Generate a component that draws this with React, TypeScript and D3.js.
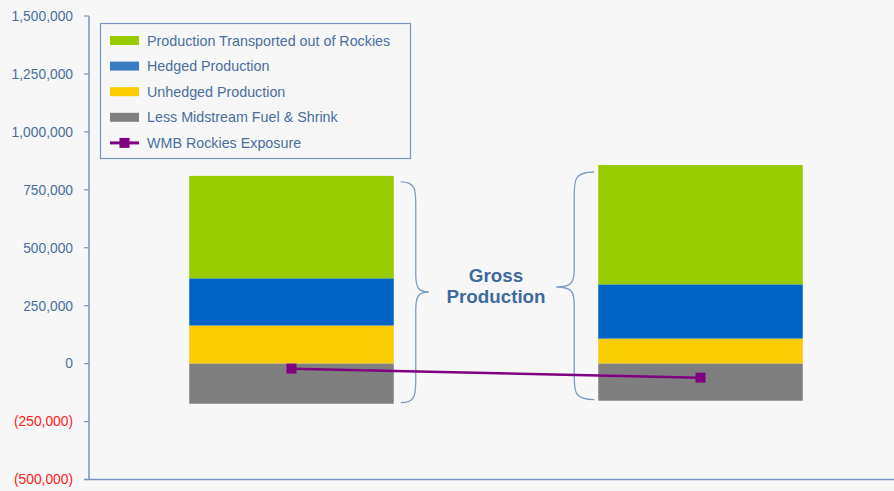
import React from "react";
import * as d3 from "d3";

const categories = ["Current", "Future"];
const transported = [442000, 515000];
const hedged = [203500, 234000];
const unhedged = [164500, 108000];
const midstream = [-173000, -160000];
const exposure = [-21600, -60600];
const yTicks = [1500000, 1250000, 1000000, 750000, 500000, 250000, 0, -250000, -500000];

const seriesNames = [
  "Production Transported out of Rockies",
  "Hedged Production",
  "Unhedged Production",
  "Less Midstream Fuel & Shrink",
  "WMB Rockies Exposure",
];
const colors = ["#99CC00", "#0063C6", "#FACB00", "#7F7F7F", "#800080"];

const W = 894;
const H = 491;
const axisColor = "#7896BE";
const textColor = "#4A6E9E";

export default function App() {
  const y = d3.scaleLinear().domain([-500000, 1500000]).range([479.5, 16]);
  const x = d3.scaleBand().domain(categories).range([87, 905]).paddingInner(0.5).paddingOuter(0.25);
  const bw = x.bandwidth();

  const fmt = (v: number) => {
    const s = d3.format(",")(Math.abs(v));
    return v < 0 ? `(${s})` : s;
  };

  const stackPos = categories.map((c, i) => {
    const segs: { y0: number; y1: number; color: string }[] = [];
    let base = 0;
    [unhedged[i], hedged[i], transported[i]].forEach((v, k) => {
      segs.push({ y0: base, y1: base + v, color: [colors[2], colors[1], colors[0]][k] });
      base += v;
    });
    segs.push({ y0: midstream[i], y1: 0, color: colors[3] });
    return segs;
  });

  const line = d3
    .line<number>()
    .x((_, i) => (x(categories[i]) as number) + bw / 2)
    .y((d) => y(d));

  const brace = (xs: number, top: number, bottom: number, mid: number, depth: number, tipLen: number, dir: 1 | -1) => {
    const d = depth * dir;
    const tip = tipLen * dir;
    return `M ${xs} ${top} C ${xs + d} ${top}, ${xs + d} ${top + 8}, ${xs + d} ${top + 24}
      L ${xs + d} ${mid - 18} C ${xs + d} ${mid - 4}, ${xs + d + 3 * dir} ${mid}, ${xs + d + tip} ${mid}
      C ${xs + d + 3 * dir} ${mid}, ${xs + d} ${mid + 4}, ${xs + d} ${mid + 18}
      L ${xs + d} ${bottom - 24} C ${xs + d} ${bottom - 8}, ${xs + d} ${bottom}, ${xs} ${bottom}`;
  };

  const b1Right = (x(categories[0]) as number) + bw;
  const b2Left = x(categories[1]) as number;

  return (
    <svg width={W} height={H} style={{ position: "absolute", left: 0, top: 0, background: "#F7F7F7" }}
      fontFamily="Arial, 'Liberation Sans', sans-serif">
      <rect x={0} y={0} width={W} height={H} fill="#F7F7F7" />
      {stackPos.map((segs, i) =>
        segs.map((s, k) => (
          <rect key={`${i}-${k}`} x={x(categories[i])} width={bw}
            y={y(Math.max(s.y0, s.y1))} height={Math.abs(y(s.y0) - y(s.y1))} fill={s.color} />
        ))
      )}
      <line x1={89} x2={89} y1={16} y2={479.5} stroke={axisColor} strokeWidth={1.5} />
      <line x1={84} x2={W} y1={479.5} y2={479.5} stroke={axisColor} strokeWidth={1.5} />
      {yTicks.map((t) => (
        <g key={t}>
          <line x1={84} x2={89} y1={y(t)} y2={y(t)} stroke={axisColor} strokeWidth={1.2} />
          <text x={73} y={y(t)} dy="0.35em" textAnchor="end" fontSize={13.8}
            fill={t < 0 ? "#FF2020" : textColor}>{fmt(t)}</text>
        </g>
      ))}
      <path d={brace(b1Right + 7, y(810000) + 6, y(-173000) - 1, 292, 15, 13, 1)} fill="none" stroke="#7C9CC6" strokeWidth={1.3} />
      <path d={brace(b2Left - 4, y(857000) + 7, y(-160000) - 1, 287, 20, 18, -1)} fill="none" stroke="#7C9CC6" strokeWidth={1.3} />
      <text x={496} y={282} textAnchor="middle" fontSize={18.8} fontWeight="bold" fill="#3E6A9E">Gross</text>
      <text x={496} y={303} textAnchor="middle" fontSize={18.8} fontWeight="bold" fill="#3E6A9E">Production</text>
      <path d={line(exposure) || ""} fill="none" stroke={colors[4]} strokeWidth={2.5} />
      {exposure.map((v, i) => (
        <rect key={i} x={(x(categories[i]) as number) + bw / 2 - 5} y={y(v) - 5} width={10} height={10} fill={colors[4]} />
      ))}
      <rect x={100.5} y={23.5} width={310} height={135} fill="#F7F7F7" stroke={axisColor} strokeWidth={1.2} />
      {seriesNames.map((n, i) => {
        const cy = 40.5 + i * 25.6;
        return (
          <g key={n}>
            {i < 4 ? (
              <rect x={110} y={cy - 4.5} width={29} height={9} fill={i === 1 ? "#3A7CC0" : colors[i]} />
            ) : (
              <g>
                <line x1={110} x2={139} y1={cy} y2={cy} stroke={colors[4]} strokeWidth={3} />
                <rect x={119.5} y={cy - 5} width={10} height={10} fill={colors[4]} />
              </g>
            )}
            <text x={147} y={cy} dy="0.36em" fontSize={14.3} fill={textColor}>{n}</text>
          </g>
        );
      })}
    </svg>
  );
}
